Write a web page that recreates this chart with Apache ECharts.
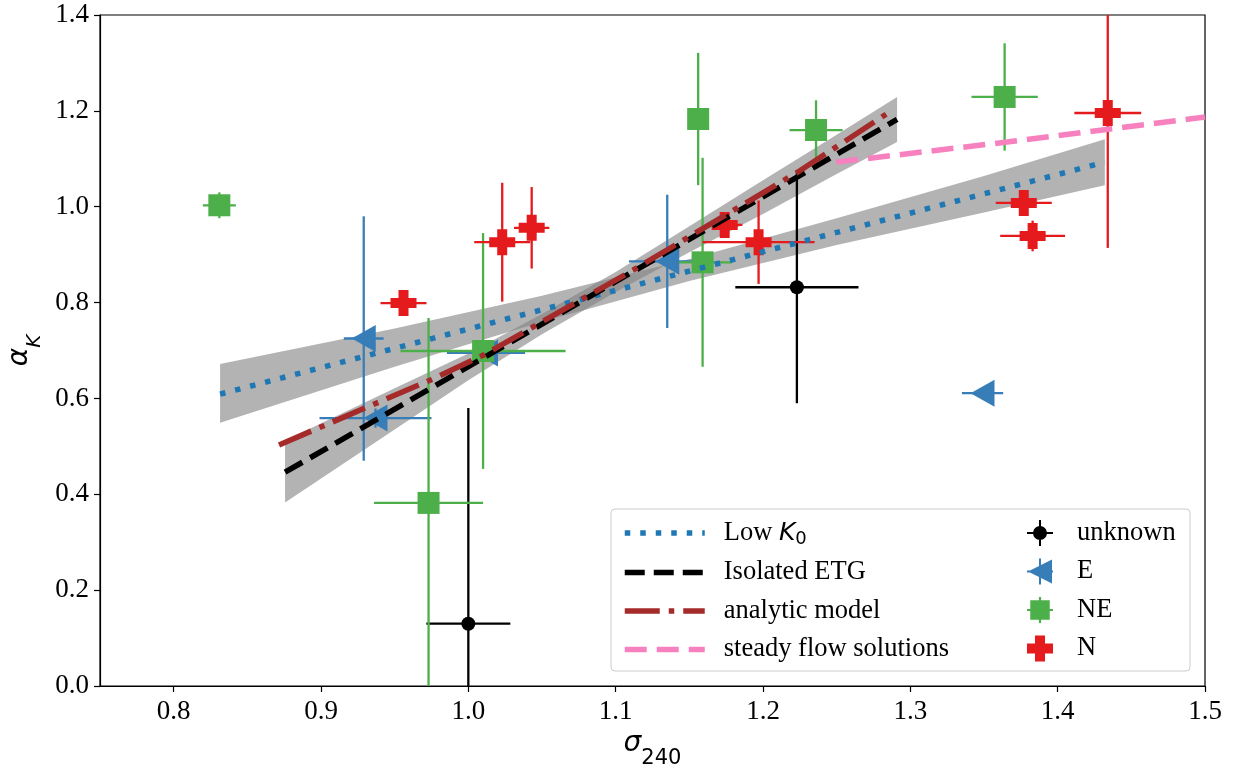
<!DOCTYPE html>
<html>
<head>
<meta charset="utf-8">
<script src="https://cdn.jsdelivr.net/npm/echarts@6/dist/echarts.min.js"></script>
<style>
  html, body { margin: 0; padding: 0; background: #ffffff; }
  #chart { width: 1236px; height: 772px; }
</style>
</head>
<body>
<div id="chart"></div>
<script>
// Axis ticks
const xTicks = [0.8, 0.9, 1.0, 1.1, 1.2, 1.3, 1.4, 1.5];
const yTicks = [0.0, 0.2, 0.4, 0.6, 0.8, 1.0, 1.2, 1.4];

// Measurements per environment class: [sigma240, alphaK, sigmaErr, alphaErr]
const unknownPts = [
  [1.000, 0.130, 0.0285, 0.450],
  [1.223, 0.832, 0.0418, 0.242]
];
const ePts = [
  [0.929, 0.725, 0.0135, 0.255],
  [0.937, 0.559, 0.038, 0.020],
  [1.012, 0.695, 0.0265, 0.000],
  [1.135, 0.886, 0.026, 0.139],
  [1.349, 0.611, 0.014, 0.008]
];
const nePts = [
  [0.831, 1.003, 0.0112, 0.027],
  [0.973, 0.382, 0.037, 0.386],
  [1.010, 0.699, 0.056, 0.246],
  [1.159, 0.884, 0.020, 0.218],
  [1.156, 1.183, 0.006, 0.138],
  [1.236, 1.160, 0.018, 0.062],
  [1.364, 1.229, 0.0225, 0.112]
];
const nPts = [
  [0.956, 0.799, 0.0156, 0.020],
  [1.023, 0.926, 0.019, 0.124],
  [1.043, 0.956, 0.012, 0.085],
  [1.174, 0.962, 0.012, 0.015],
  [1.197, 0.926, 0.038, 0.087],
  [1.377, 1.008, 0.019, 0.015],
  [1.383, 0.939, 0.022, 0.032],
  [1.434, 1.1955, 0.0227, 0.2815]
];

// Fitted relations and model curves: [sigma240, alphaK]
const lowK0Line = [[0.8315, 0.609], [1.432, 1.093]];
const etgLine = [[0.8756, 0.446], [1.291, 1.182]];
const analyticLine = [[0.8715, 0.503], [0.974, 0.638], [1.010, 0.690], [1.112, 0.868], [1.225, 1.075], [1.2836, 1.193]];
const steadyFlowLine = [[1.2497, 1.093], [1.3657, 1.135], [1.500, 1.187]];

// Confidence bands of the fits: [sigma240, lower, upper]
const lowK0Band = [
  [0.8315, 0.549, 0.672],
  [0.950, 0.666, 0.746],
  [1.050, 0.760, 0.814],
  [1.150, 0.845, 0.891],
  [1.250, 0.920, 0.976],
  [1.350, 0.988, 1.064],
  [1.432, 1.045, 1.141]
];
const etgBand = [
  [0.8756, 0.383, 0.512],
  [0.950, 0.535, 0.621],
  [1.000, 0.638, 0.694],
  [1.050, 0.734, 0.776],
  [1.100, 0.822, 0.864],
  [1.150, 0.905, 0.959],
  [1.200, 0.985, 1.055],
  [1.250, 1.068, 1.150],
  [1.291, 1.135, 1.229]
];

const X_MIN = 0.75, X_MAX = 1.5, Y_MIN = 0, Y_MAX = 1.4;
const SERIF = 'Liberation Serif';
const MATH = 'DejaVu Sans';

const colors = {
  unknown: '#000000',
  E: '#377eb8',
  NE: '#4daf4a',
  N: '#e41a1c',
  lowK0: '#1f77b4',
  etg: '#000000',
  analytic: '#a52a2a',
  steady: '#f781bf',
  band: 'rgba(128,128,128,0.6)'
};

// line styles shared by the curves and their legend keys
const styles = {
  lowK0: { color: colors.lowK0, width: 5.5, type: [5.5, 10], cap: 'butt' },
  etg: { color: colors.etg, width: 5.5, type: [20, 9], cap: 'butt' },
  analytic: { color: colors.analytic, width: 5.5, type: [35, 9, 5.5, 9], cap: 'butt' },
  steady: { color: colors.steady, width: 5.5, type: [22, 10], cap: 'butt' }
};

const plusPath = 'path://M8,0H18V8H26V18H18V26H8V18H0V8H8Z';

function clamp(v, lo, hi) { return Math.max(lo, Math.min(hi, v)); }

function bandRenderer(band) {
  return function (params, api) {
    if (params.dataIndex !== 0) return null;
    const pts = [];
    for (let i = 0; i < band.length; i++) pts.push(api.coord([band[i][0], band[i][2]]));
    for (let i = band.length - 1; i >= 0; i--) pts.push(api.coord([band[i][0], band[i][1]]));
    return { type: 'polygon', shape: { points: pts }, style: { fill: colors.band } };
  };
}

function errorBarRenderer(color) {
  return function (params, api) {
    const x = api.value(0), y = api.value(1), ex = api.value(2), ey = api.value(3);
    const style = { stroke: color, lineWidth: 2.3 };
    const children = [];
    if (ex > 0) {
      const a = api.coord([clamp(x - ex, X_MIN, X_MAX), y]);
      const b = api.coord([clamp(x + ex, X_MIN, X_MAX), y]);
      children.push({ type: 'line', shape: { x1: a[0], y1: a[1], x2: b[0], y2: b[1] }, style });
    }
    if (ey > 0) {
      const a = api.coord([x, clamp(y - ey, Y_MIN, Y_MAX)]);
      const b = api.coord([x, clamp(y + ey, Y_MIN, Y_MAX)]);
      children.push({ type: 'line', shape: { x1: a[0], y1: a[1], x2: b[0], y2: b[1] }, style });
    }
    return { type: 'group', children };
  };
}

function bandSeries(band) {
  return {
    type: 'custom', silent: true, clip: true,
    data: band.map(r => [r[0], r[1], r[2]]),
    encode: { x: 0, y: [1, 2] },
    renderItem: bandRenderer(band)
  };
}

function lineSeries(name, data, style) {
  return {
    name, type: 'line', data, symbol: 'none', silent: true, clip: true,
    lineStyle: style, itemStyle: { color: style.color }
  };
}

function errSeries(data, color) {
  return {
    type: 'custom', silent: true, clip: true,
    data, encode: { x: 0, y: 1 },
    renderItem: errorBarRenderer(color)
  };
}

function markerSeries(name, data, color, symbol, size, rotate) {
  return {
    name, type: 'scatter', data: data.map(r => [r[0], r[1]]),
    symbol, symbolSize: size, symbolRotate: rotate || 0,
    itemStyle: { color, opacity: 1 }, silent: true
  };
}

const chart = echarts.init(document.getElementById('chart'), null, { renderer: 'canvas' });

const tickLabelStyle = { fontFamily: SERIF, fontSize: 27, color: '#000' };
const legendFont = 26.5;

chart.setOption({
  animation: false,
  backgroundColor: '#ffffff',
  grid: {
    left: 100, right: 31, top: 15, bottom: 86,
    outerBoundsMode: 'none', containLabel: false,
    show: true, borderColor: '#000', borderWidth: 1.2, backgroundColor: 'transparent'
  },
  xAxis: {
    type: 'value', min: X_MIN, max: X_MAX,
    axisLine: { show: true, onZero: false, lineStyle: { color: '#000', width: 1.2 } },
    axisTick: { show: true, inside: false, length: 6, lineStyle: { color: '#000', width: 1.2 }, customValues: xTicks },
    axisLabel: { ...tickLabelStyle, margin: 12, customValues: xTicks, formatter: v => v.toFixed(1) },
    splitLine: { show: false },
    name: '{i|σ}{s|240}', nameLocation: 'middle', nameGap: 38,
    nameTextStyle: {
      color: '#000',
      rich: {
        i: { fontFamily: MATH, fontStyle: 'italic', fontSize: 28, color: '#000', padding: [0, 0, 10, 0] },
        s: { fontFamily: MATH, fontSize: 21, color: '#000', padding: [20, 0, 0, 0] }
      }
    }
  },
  yAxis: {
    type: 'value', min: Y_MIN, max: Y_MAX, interval: 0.2,
    axisLine: { show: true, onZero: false, lineStyle: { color: '#000', width: 1.2 } },
    axisTick: { show: true, inside: false, length: 6, lineStyle: { color: '#000', width: 1.2 } },
    axisLabel: { ...tickLabelStyle, margin: 11, formatter: v => v.toFixed(1) },
    splitLine: { show: false },
    name: '{i|α}{s|K}', nameLocation: 'middle', nameGap: 52, nameRotate: 90,
    nameTextStyle: {
      color: '#000',
      rich: {
        i: { fontFamily: MATH, fontStyle: 'italic', fontSize: 28, color: '#000', padding: [0, 0, 10, 0] },
        s: { fontFamily: MATH, fontStyle: 'italic', fontSize: 20, color: '#000', padding: [20, 0, 0, 0] }
      }
    }
  },
  graphic: [{
    type: 'rect', z: 3, silent: true,
    shape: { x: 611, y: 509, width: 579, height: 162, r: 4 },
    style: { fill: 'rgba(255,255,255,0.8)', stroke: '#cccccc', lineWidth: 1 }
  }],
  legend: [
    {
      z: 5, left: 617, top: 514, orient: 'vertical', itemWidth: 80, itemHeight: 22, itemGap: 10.5,
      selectedMode: false,
      itemStyle: { opacity: 0 },
      data: [
        { name: 'Low K0', lineStyle: styles.lowK0 },
        { name: 'Isolated ETG', lineStyle: styles.etg },
        { name: 'analytic model', lineStyle: styles.analytic },
        { name: 'steady flow solutions', lineStyle: styles.steady }
      ],
      formatter: name => name === 'Low K0' ? 'Low {k|K}{s|0}' : name,
      textStyle: {
        fontFamily: SERIF, fontSize: legendFont, lineHeight: 28, color: '#000', padding: [0, 0, 0, 14],
        rich: {
          k: { fontFamily: MATH, fontStyle: 'italic', fontSize: 25, color: '#000' },
          s: { fontFamily: MATH, fontSize: 18, color: '#000', padding: [12, 0, 0, 0] }
        }
      }
    },
    {
      z: 5, left: 1022, top: 514, orient: 'vertical', itemWidth: 28, itemHeight: 26, itemGap: 10.5,
      selectedMode: false,
      data: [
        { name: 'unknown', icon: 'path://M0,12H26V14H0Z M12,0H14V26H12Z M13,6A7,7 0 1,1 12.99,6Z' },
        { name: 'E', icon: 'path://M1,13L25,1L25,25Z M0,12H26V14H0Z M12,0H14V26H12Z' },
        { name: 'NE', icon: 'path://M4,4H22V22H4Z M1,12H25V14H1Z M12,1H14V25H12Z' },
        { name: 'N', icon: plusPath }
      ],
      textStyle: { fontFamily: SERIF, fontSize: legendFont, lineHeight: 28, color: '#000', padding: [0, 0, 0, 18] }
    }
  ],
  series: [
    bandSeries(lowK0Band),
    bandSeries(etgBand),
    lineSeries('Low K0', lowK0Line, styles.lowK0),
    lineSeries('Isolated ETG', etgLine, styles.etg),
    lineSeries('analytic model', analyticLine, styles.analytic),
    lineSeries('steady flow solutions', steadyFlowLine, styles.steady),
    errSeries(unknownPts, colors.unknown),
    markerSeries('unknown', unknownPts, colors.unknown, 'circle', 14),
    errSeries(ePts, colors.E),
    markerSeries('E', ePts, colors.E, 'triangle', [27, 24], 90),
    errSeries(nePts, colors.NE),
    markerSeries('NE', nePts, colors.NE, 'rect', 22),
    errSeries(nPts, colors.N),
    markerSeries('N', nPts, colors.N, plusPath, 26)
  ]
});
</script>
</body>
</html>
